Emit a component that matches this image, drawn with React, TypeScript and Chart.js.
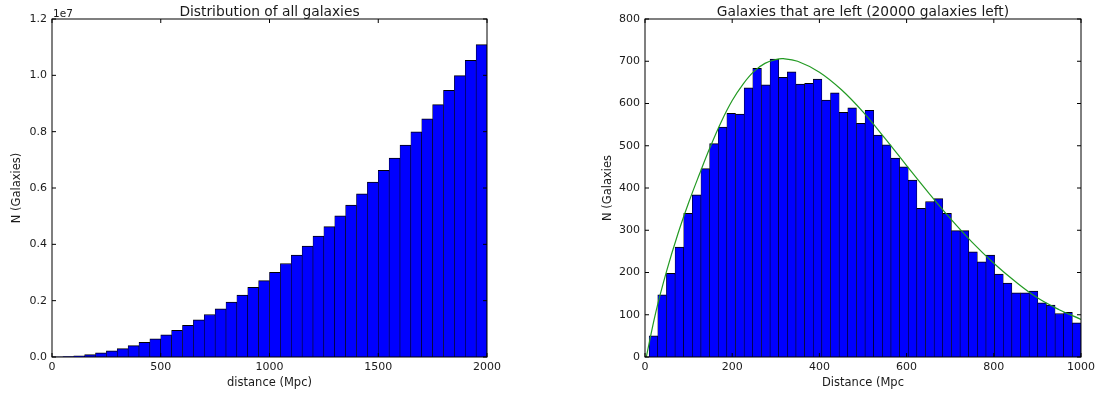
import React, { useEffect, useRef } from "react";
import { Chart, registerables } from "chart.js";

Chart.register(...registerables);

// ---- Left panel: all galaxies, 40 bins of 50 Mpc between 0 and 2000 Mpc ----
const ALL_RANGE = [0, 2000];
const allCounts = [
  3000, 16000, 44000, 87000, 144000, 215000, 300000, 402000, 518000, 645000,
  784000, 945000, 1120000, 1320000, 1510000, 1710000, 1950000, 2200000, 2470000, 2710000,
  3010000, 3320000, 3620000, 3940000, 4290000, 4630000, 5010000, 5390000, 5790000, 6210000,
  6630000, 7060000, 7520000, 7990000, 8460000, 8960000, 9470000, 9990000, 10530000, 11090000,
];
const allXTicks = [0, 500, 1000, 1500, 2000];
const allYTicks = [0, 2e6, 4e6, 6e6, 8e6, 10e6, 12e6];

// ---- Right panel: remaining galaxies, 50 bins between the sample's min and max distance ----
const LEFT_RANGE = [9.5, 1000];
const leftCounts = [
  50, 147, 198, 260, 340, 384, 446, 505, 544, 577,
  575, 637, 683, 644, 705, 662, 675, 646, 648, 658,
  608, 625, 579, 590, 553, 584, 525, 502, 471, 450,
  419, 352, 368, 375, 340, 299, 299, 249, 225, 241,
  196, 175, 152, 152, 156, 128, 123, 103, 106, 81,
];
// fitted distribution curve
const fitX = [3, 25, 50, 75, 100, 125, 150, 175, 200, 225, 250, 275, 300, 317, 350, 400, 450, 500, 550, 600, 650, 700, 750, 800, 850, 900, 950, 1000];
const fitY = [0, 107, 205, 290, 365, 433, 498, 557, 607, 646, 676, 695, 704, 706, 700, 674, 633, 580, 518, 453, 389, 328, 272, 222, 178, 140, 112, 89];
const leftXTicks = [0, 200, 400, 600, 800, 1000];
const leftYTicks = [0, 100, 200, 300, 400, 500, 600, 700, 800];

const FONT = '"DejaVu Sans", sans-serif';
const TEXT = "#1a1a1a";

function binned(range: number[], counts: number[]) {
  const w = (range[1] - range[0]) / counts.length;
  return counts.map((c, i) => ({ x: range[0] + (i + 0.5) * w, y: c }));
}

// Frame with inward tick marks on all four sides, plus the panel title.
const framePlugin = {
  id: "frame",
  afterDatasetsDraw(chart: any, _args: any, opts: any) {
    const { ctx, chartArea: a, scales } = chart;
    ctx.save();
    ctx.strokeStyle = "#000";
    ctx.lineWidth = 1;
    ctx.strokeRect(a.left, a.top, a.right - a.left, a.bottom - a.top);
    const L = 4;
    ctx.beginPath();
    for (const t of scales.x.ticks) {
      const px = scales.x.getPixelForValue(t.value);
      ctx.moveTo(px, a.bottom);
      ctx.lineTo(px, a.bottom - L);
      ctx.moveTo(px, a.top);
      ctx.lineTo(px, a.top + L);
    }
    for (const t of scales.y.ticks) {
      const py = scales.y.getPixelForValue(t.value);
      ctx.moveTo(a.left, py);
      ctx.lineTo(a.left + L, py);
      ctx.moveTo(a.right, py);
      ctx.lineTo(a.right - L, py);
    }
    ctx.stroke();

    ctx.fillStyle = TEXT;
    ctx.textBaseline = "alphabetic";
    ctx.font = `13.8px ${FONT}`;
    ctx.textAlign = "center";
    ctx.fillText(opts.title, (a.left + a.right) / 2, a.top - 3);
    if (opts.offsetText) {
      ctx.font = `10.5px ${FONT}`;
      ctx.textAlign = "left";
      ctx.fillText(opts.offsetText, a.left + 1, a.top - 2);
    }
    ctx.restore();
  },
};

function makeOptions(p: {
  xRange: number[];
  yMax: number;
  xTicks: number[];
  yTicks: number[];
  yFmt: (v: number) => string;
  xTitle: string;
  yTitle: string;
  title: string;
  offsetText?: string;
  yWidth: number;
  yTitlePad: number;
  padRight: number;
}) {
  const tickFont = { family: FONT, size: 11 };
  const labelFont = { family: FONT, size: 11.5 };
  return {
    responsive: false,
    animation: false as const,
    events: [],
    layout: { padding: { top: 19, right: p.padRight, left: 0, bottom: 0 } },
    plugins: {
      legend: { display: false },
      tooltip: { enabled: false },
      title: { display: false },
      frame: { title: p.title, offsetText: p.offsetText },
    },
    scales: {
      x: {
        type: "linear" as const,
        min: p.xRange[0],
        max: p.xRange[1],
        offset: false,
        grid: { display: false, drawTicks: false },
        border: { display: false },
        afterBuildTicks: (s: any) => {
          s.ticks = p.xTicks.map((v) => ({ value: v }));
        },
        afterFit: (s: any) => {
          s.height = 40;
        },
        ticks: {
          padding: 4,
          autoSkip: false,
          maxRotation: 0,
          color: TEXT,
          font: tickFont,
          callback: (v: any) => String(v),
        },
        title: {
          display: true,
          text: p.xTitle,
          color: TEXT,
          font: labelFont,
          padding: { top: 0, bottom: 7 },
        },
      },
      y: {
        type: "linear" as const,
        min: 0,
        max: p.yMax,
        grid: { display: false, drawTicks: false },
        border: { display: false },
        afterBuildTicks: (s: any) => {
          s.ticks = p.yTicks.map((v) => ({ value: v }));
        },
        afterFit: (s: any) => {
          s.width = p.yWidth;
        },
        ticks: {
          padding: 5,
          autoSkip: false,
          color: TEXT,
          font: tickFont,
          callback: (v: any) => p.yFmt(Number(v)),
        },
        title: {
          display: true,
          text: p.yTitle,
          color: TEXT,
          font: labelFont,
          padding: { top: p.yTitlePad, bottom: 0 },
        },
      },
    },
  };
}

const barStyle = {
  backgroundColor: "#0000ff",
  borderColor: "#000000",
  borderWidth: { top: 1, left: 0.6, right: 0.6, bottom: 0 },
  borderSkipped: "start" as const,
  barPercentage: 1,
  categoryPercentage: 1,
  order: 1,
};

export default function App() {
  const leftRef = useRef<HTMLCanvasElement>(null);
  const rightRef = useRef<HTMLCanvasElement>(null);

  useEffect(() => {
    const allChart = new Chart(leftRef.current!, {
      type: "bar",
      data: {
        datasets: [{ ...barStyle, data: binned(ALL_RANGE, allCounts) } as any],
      },
      options: makeOptions({
        xRange: ALL_RANGE,
        yMax: 1.2e7,
        xTicks: allXTicks,
        yTicks: allYTicks,
        yFmt: (v) => (v / 1e7).toFixed(1),
        xTitle: "distance (Mpc)",
        yTitle: "N (Galaxies)",
        title: "Distribution of all galaxies",
        offsetText: "1e7",
        yWidth: 52,
        yTitlePad: 10,
        padRight: 63,
      }) as any,
      plugins: [framePlugin],
    });

    const leftChart = new Chart(rightRef.current!, {
      type: "bar",
      data: {
        datasets: [
          {
            type: "line",
            data: fitX.map((x, i) => ({ x, y: fitY[i] })),
            borderColor: "#229a22",
            borderWidth: 1.2,
            pointRadius: 0,
            tension: 0.4,
            order: 0,
          } as any,
          { ...barStyle, data: binned(LEFT_RANGE, leftCounts) } as any,
        ],
      },
      options: makeOptions({
        xRange: [0, 1000],
        yMax: 800,
        xTicks: leftXTicks,
        yTicks: leftYTicks,
        yFmt: (v) => String(v),
        xTitle: "Distance (Mpc",
        yTitle: "N (Galaxies",
        title: "Galaxies that are left (20000 galaxies left)",
        yWidth: 95,
        yTitlePad: 51,
        padRight: 20,
      }) as any,
      plugins: [framePlugin],
    });

    return () => {
      allChart.destroy();
      leftChart.destroy();
    };
  }, []);

  return (
    <div
      style={{
        position: "absolute",
        left: 0,
        top: 0,
        width: 1101,
        height: 397,
        background: "#ffffff",
        overflow: "hidden",
      }}
    >
      <canvas
        ref={leftRef}
        width={550}
        height={397}
        style={{ position: "absolute", left: 0, top: 0, width: 550, height: 397 }}
      />
      <canvas
        ref={rightRef}
        width={551}
        height={397}
        style={{ position: "absolute", left: 550, top: 0, width: 551, height: 397 }}
      />
    </div>
  );
}
